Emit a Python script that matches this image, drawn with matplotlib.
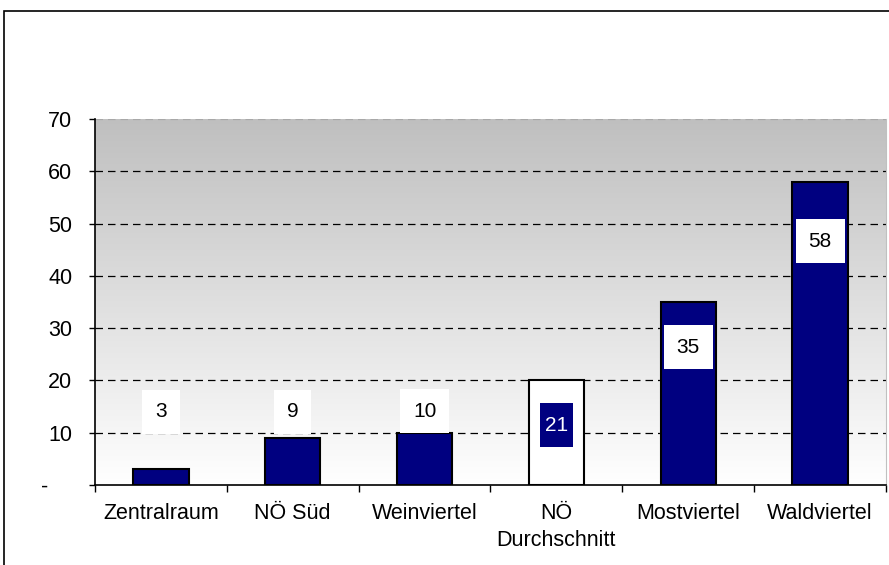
import numpy as np
import matplotlib
matplotlib.use("Agg")
import matplotlib.pyplot as plt
from matplotlib.patches import Rectangle
from matplotlib.path import Path

plt.rcParams['font.family'] = ['Liberation Sans', 'DejaVu Sans']

# data
regions = ["Zentralraum", "NÖ Süd", "Weinviertel", "NÖ\nDurchschnitt", "Mostviertel", "Waldviertel"]
bar_values = [3, 9, 10, 20, 35, 58]
label_values = [3, 9, 10, 21, 35, 58]
is_average = [False, False, False, True, False, False]
y_ticks = [0, 10, 20, 30, 40, 50, 60, 70]
y_ticklabels = ["-    ", "10", "20", "30", "40", "50", "60", "70"]

# label placement (y in data units)
label_y = [14.0, 14.0, 14.15, 11.4, 26.3, 46.6]

navy = "#000080"


def label_box(padx, pady):
    # rectangle with separate horizontal / vertical padding
    def box(x0, y0, width, height, mutation_size):
        px = padx * mutation_size
        py = pady * mutation_size
        x0, y0 = x0 - px, y0 - py
        x1, y1 = x0 + width + 2 * px, y0 + height + 2 * py
        return Path([(x0, y0), (x1, y0), (x1, y1), (x0, y1), (x0, y0)], closed=True)
    return box


fig = plt.figure(figsize=(8.89, 5.65), dpi=100)
ax = fig.add_axes([95 / 889, 1 - 485 / 565, 791 / 889, 366 / 565])

# outer chart frame (runs off right/bottom edge)
fig.patches.append(Rectangle((4 / 889, -0.2), 2, 1.2 - 11 / 565,
                             transform=fig.transFigure, fill=False,
                             edgecolor="black", linewidth=1.2))

# gradient background
grad = np.linspace(0.75, 1.0, 256).reshape(-1, 1)
ax.imshow(np.dstack([grad, grad, grad]), extent=(-0.5, 5.5, 0, 70),
          aspect="auto", origin="upper", zorder=0)

ax.set_xlim(-0.5, 5.5)
ax.set_ylim(0, 70)

for yv in y_ticks[1:-1]:
    ax.axhline(yv, color="black", linestyle=(0, (6, 4)), linewidth=0.9, zorder=1)
ax.axhline(70, color="#a8a8a8", linestyle=(0, (6, 4)), linewidth=0.9, zorder=1)

x = np.arange(len(regions))
colors = ["white" if a else navy for a in is_average]
ax.bar(x, bar_values, width=0.42, color=colors, edgecolor="black",
       linewidth=1.5, zorder=3)

for xi, ly, lv, avg in zip(x, label_y, label_values, is_average):
    fc = navy if avg else "white"
    tc = "white" if avg else "black"
    padx = 0.24 if avg else 0.62
    ax.text(xi, ly, str(lv), ha="center", va="center", fontsize=15, color=tc,
            zorder=5, bbox=dict(boxstyle=label_box(padx, 0.6), facecolor=fc,
                                edgecolor="none"))

ax.set_yticks(y_ticks)
ax.set_yticklabels(y_ticklabels, fontsize=15.5)
ax.tick_params(axis="y", length=4.3, width=1, pad=12, direction="out")

ax.set_xticks(x)
ax.set_xticklabels(regions, fontsize=15.5, va="top", linespacing=1.35)
ax.tick_params(axis="x", length=0, pad=13)
ax.set_xticks(np.arange(-0.5, 6, 1), minor=True)
ax.tick_params(axis="x", which="minor", length=5, width=1, direction="out")

ax.spines["top"].set_visible(False)
ax.spines["right"].set_color("#c0c0c0")
ax.spines["left"].set_linewidth(1.2)
ax.spines["bottom"].set_linewidth(1.2)

fig.savefig("out.png", dpi=100)
